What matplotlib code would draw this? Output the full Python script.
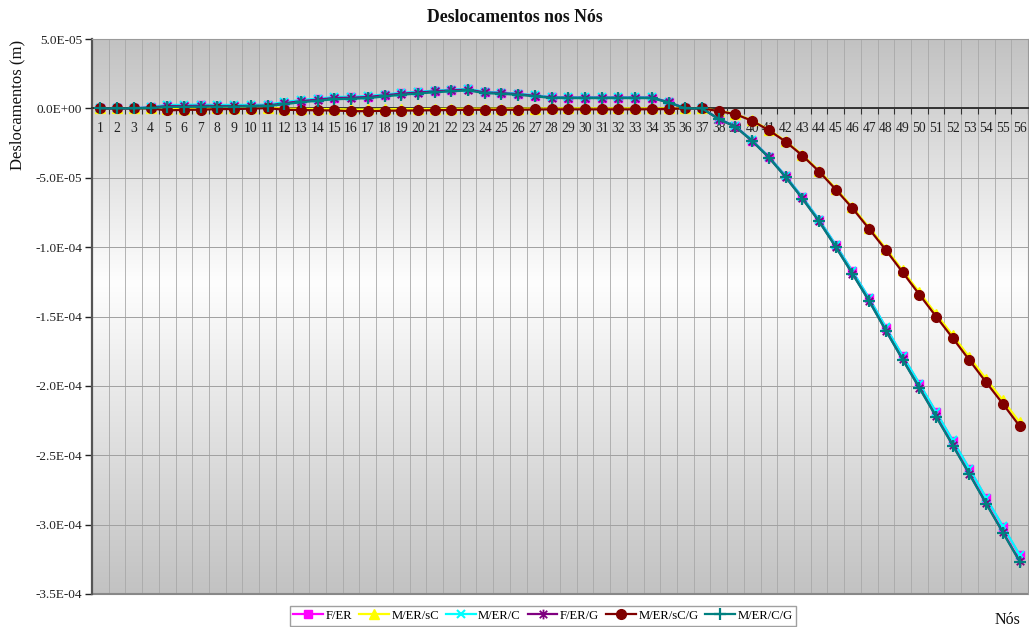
import numpy as np
import matplotlib
matplotlib.use("Agg")
import matplotlib.pyplot as plt
from matplotlib.path import Path
from matplotlib.ticker import FixedLocator, FuncFormatter

plt.rcParams['font.family'] = ['Liberation Serif', 'DejaVu Serif']

# Node numbers along the beam
nodes = list(range(1, 57))

# Vertical displacements, in units of 1e-5 m
SCALE = 1e-5

f_er = [0, 0, 0, 0.08, 0.20, 0.20, 0.22, 0.20, 0.20, 0.20,
        0.22, 0.40, 0.55, 0.66, 0.78, 0.80, 0.85, 0.97, 1.09, 1.17,
        1.26, 1.33, 1.38, 1.17, 1.12, 1.04, 0.92, 0.80, 0.78, 0.78,
        0.78, 0.78, 0.78, 0.78, 0.45, 0, 0, -0.76, -1.30, -2.32,
        -3.49, -4.88, -6.40, -8.03, -9.85, -11.75, -13.70, -15.80, -17.85, -19.85,
        -21.90, -23.95, -26.00, -28.10, -30.15, -32.20]

m_er_sc = [0, 0, 0, 0.02, -0.05, -0.02, 0, 0.02, 0.02, 0.03,
           0.05, -0.02, -0.03, -0.05, -0.05, -0.08, -0.08, -0.06, -0.05, -0.05,
           -0.04, -0.03, -0.02, -0.02, -0.02, -0.02, -0.01, 0, 0, 0,
           0, 0, 0, 0, 0, 0, 0, -0.18, -0.40, -0.87,
           -1.54, -2.36, -3.35, -4.49, -5.78, -7.12, -8.60, -10.10, -11.68, -13.26,
           -14.82, -16.36, -17.94, -19.51, -21.04, -22.62]

m_er_c = [0, 0, 0, 0.10, 0.25, 0.25, 0.27, 0.25, 0.25, 0.25,
          0.27, 0.45, 0.60, 0.70, 0.82, 0.84, 0.89, 1.00, 1.12, 1.20,
          1.28, 1.35, 1.40, 1.19, 1.14, 1.06, 0.94, 0.82, 0.80, 0.80,
          0.80, 0.80, 0.80, 0.80, 0.46, 0, 0, -0.75, -1.29, -2.31,
          -3.48, -4.87, -6.39, -8.02, -9.84, -11.74, -13.69, -15.78, -17.83, -19.83,
          -21.88, -23.93, -25.98, -28.08, -30.12, -32.17]

f_er_g = [0, 0, 0, 0.06, 0.17, 0.17, 0.19, 0.17, 0.17, 0.18,
          0.20, 0.37, 0.52, 0.63, 0.75, 0.77, 0.82, 0.94, 1.06, 1.14,
          1.23, 1.30, 1.35, 1.15, 1.10, 1.02, 0.90, 0.78, 0.77, 0.77,
          0.77, 0.77, 0.77, 0.77, 0.44, 0, 0, -0.77, -1.32, -2.35,
          -3.54, -4.95, -6.49, -8.14, -9.98, -11.91, -13.88, -16.01, -18.09, -20.12,
          -22.19, -24.27, -26.35, -28.47, -30.55, -32.63]

m_er_sc_g = [0, 0, 0, 0, -0.15, -0.10, -0.10, -0.05, -0.05, -0.02,
             0.02, -0.10, -0.12, -0.14, -0.15, -0.20, -0.20, -0.17, -0.16, -0.15,
             -0.13, -0.12, -0.10, -0.10, -0.10, -0.10, -0.08, -0.07, -0.07, -0.07,
             -0.07, -0.07, -0.07, -0.06, -0.05, 0, 0, -0.20, -0.42, -0.90,
             -1.58, -2.40, -3.40, -4.55, -5.85, -7.20, -8.70, -10.22, -11.82, -13.42,
             -15.00, -16.56, -18.16, -19.75, -21.30, -22.90]

m_er_c_g = [0, 0, 0, 0.03, 0.10, 0.11, 0.12, 0.12, 0.13, 0.14,
            0.16, 0.30, 0.44, 0.55, 0.66, 0.69, 0.74, 0.86, 0.98, 1.07,
            1.16, 1.23, 1.29, 1.10, 1.05, 0.98, 0.87, 0.75, 0.74, 0.74,
            0.74, 0.74, 0.74, 0.74, 0.42, 0, 0, -0.78, -1.33, -2.36,
            -3.55, -4.96, -6.50, -8.15, -10.00, -11.93, -13.90, -16.03, -18.11, -20.15,
            -22.22, -24.30, -26.38, -28.50, -30.58, -32.66]

series_labels = ['F/ER', 'M/ER/sC', 'M/ER/C', 'F/ER/G', 'M/ER/sC/G', 'M/ER/C/G']
y_ticks = [5e-5, 0, -5e-5, -1e-4, -1.5e-4, -2e-4, -2.5e-4, -3e-4, -3.5e-4]

X_MIN, X_MAX = 0.5, 56.5
Y_MIN, Y_MAX = -3.5e-4, 5e-5

# asterisk-style marker: an x crossed by a vertical bar
star_marker = Path([(-1, -1), (1, 1), (-1, 1), (1, -1), (0, -1.3), (0, 1.3)],
                   [Path.MOVETO, Path.LINETO] * 3)

styles = [
    dict(color='#FF00FF', marker='s', ms=6, mfc='#FF00FF', mec='#FF00FF'),
    dict(color='#FFFF00', marker='^', ms=6.5, mfc='#FFFF00', mec='#FFFF00'),
    dict(color='#00FFFF', marker='x', ms=6, mew=1.5),
    dict(color='#800080', marker=star_marker, ms=7, mew=1.3, mfc='none'),
    dict(color='#800000', marker='o', ms=7, mfc='#800000', mec='#800000'),
    dict(color='#008080', marker='+', ms=8, mew=1.6),
]
data = [f_er, m_er_sc, m_er_c, f_er_g, m_er_sc_g, m_er_c_g]

fig = plt.figure(figsize=(10.29, 6.27), dpi=100)
ax = fig.add_axes([92 / 1029, 1 - 594 / 627, (1028 - 92) / 1029, (594 - 39) / 627])

# plot-area background: grey at top and bottom, white band in between
t = np.linspace(0, 1, 600)
peak = 0.56
grey = np.where(t < peak, 0.76 + 0.235 * t / peak, 0.76 + 0.235 * (1 - t) / (1 - peak))
rgb = np.repeat(np.repeat(grey[:, None, None], 4, axis=1), 3, axis=2)
ax.imshow(rgb, origin='lower', aspect='auto', extent=[X_MIN, X_MAX, Y_MIN, Y_MAX],
          interpolation='nearest', zorder=0)

x = np.array(nodes)
for vals, lab, st in zip(data, series_labels, styles):
    y = np.array(vals) * SCALE
    ax.plot(x, y, label=lab, lw=1.6, zorder=3, **st)

ax.set_xlim(X_MIN, X_MAX)
ax.set_ylim(Y_MIN, Y_MAX)

# category axis drawn along y = 0
ax.spines['bottom'].set_position(('data', 0))
ax.spines['bottom'].set_color('#333333')
ax.spines['bottom'].set_linewidth(1.4)
ax.spines['bottom'].set_zorder(2.5)
ax.xaxis.set_major_locator(FixedLocator(nodes))
ax.xaxis.set_minor_locator(FixedLocator(np.arange(0.5, 57, 1)))
ax.set_xticklabels([str(n) for n in nodes])
ax.tick_params(axis='x', which='major', length=0, pad=10, labelsize=9.8, colors='#222222')
ax.tick_params(axis='x', which='minor', length=4, direction='out', color='#333333', width=0.8)

ax.yaxis.set_major_locator(FixedLocator(y_ticks))
ax.yaxis.set_major_formatter(FuncFormatter(lambda v, p: f"{v:.1E}"))
ax.tick_params(axis='y', length=5, width=1.0, direction='out', labelsize=9.5,
               colors='#222222', pad=2)
ax.spines['left'].set_color('#555555')
ax.spines['left'].set_linewidth(1.6)
for s in ('top', 'right'):
    ax.spines[s].set_color('#9a9a9a')
    ax.spines[s].set_linewidth(0.8)
# lower border of the plot area
ax.plot([0, 1], [0, 0], transform=ax.transAxes, color='#888888', lw=1.5,
        clip_on=False, zorder=2)

# thin grid lines at category boundaries and value ticks
for b in np.arange(1.5, 56.5, 1):
    ax.axvline(b, color='#a8a8a8', lw=0.6, zorder=1, snap=True)
for v in y_ticks[1:-1]:
    ax.axhline(v, color='#a0a0a0', lw=0.7, zorder=1, snap=True)

fig.text(0.5, 1 - 17 / 627, 'Deslocamentos nos Nós', ha='center', va='center',
         fontsize=12.8, fontweight='bold', color='#111111')
fig.text(17 / 1029, 1 - 105 / 627, 'Deslocamentos (m)', rotation=90,
         ha='center', va='center', fontsize=12, color='#111111')
fig.text(1008 / 1029, 1 - 620 / 627, 'Nós', ha='center', va='center',
         fontsize=11.5, color='#111111')

leg = fig.legend(loc='upper center', bbox_to_anchor=(543 / 1029, 1 - 606 / 627),
                 ncol=6, frameon=True, fancybox=False, fontsize=9.1,
                 handlelength=2.35, handletextpad=0.2, columnspacing=0.55,
                 borderpad=0.3, borderaxespad=0)
leg.get_frame().set_edgecolor('#888888')
leg.get_frame().set_linewidth(1)

fig.savefig('out.png', dpi=100)
